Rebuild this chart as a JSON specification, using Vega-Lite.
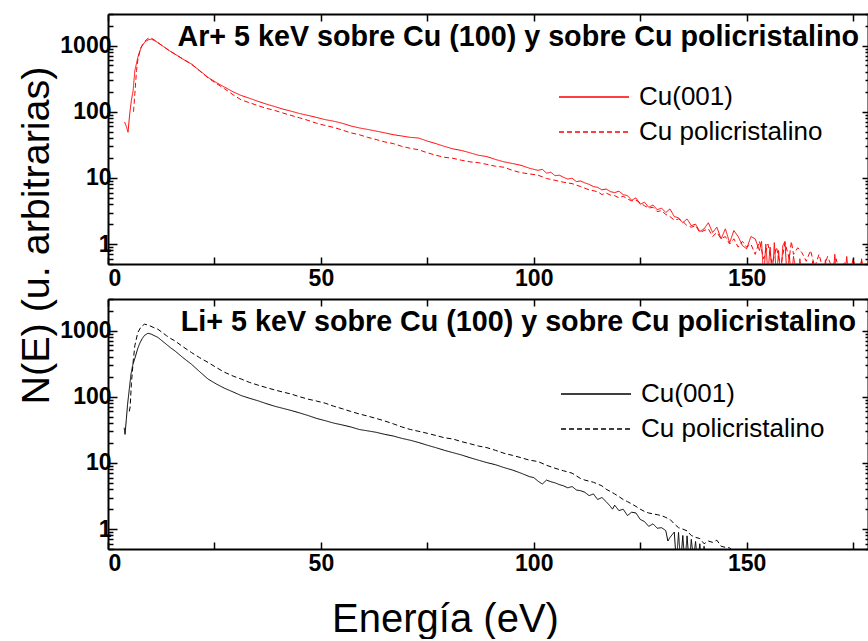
{
  "$schema": "https://vega.github.io/schema/vega-lite/v6.json",
  "background": "white",
  "padding": {"left": 16, "top": 3, "right": 0, "bottom": 0},
  "bounds": "flush",
  "spacing": 35,
  "resolve": {"scale": {"strokeDash": "independent"}, "legend": {"strokeDash": "independent"}},
  "config": {
    "font": "Liberation Sans",
    "view": {"stroke": null},
    "axis": {"grid": false, "domainColor": "black", "domainWidth": 2, "tickColor": "black", "tickWidth": 1.5, "labelColor": "black", "labelFont": "Liberation Sans", "labelFontWeight": "bold", "labelFontSize": 23, "labelOverlap": false, "titleColor": "black", "titleFont": "Liberation Sans", "titleFontWeight": "normal", "titleFontSize": 40},
    "legend": {"orient": "none", "title": null, "symbolType": "M-3.5,0H3.5", "symbolSize": 400, "symbolStrokeWidth": 1.3, "labelFont": "Liberation Sans", "labelFontSize": 26, "labelFontWeight": "normal", "labelColor": "black", "labelOffset": 32, "padding": 0, "rowPadding": 9, "labelLimit": 400}
  },
  "datasets": {
    "ar": [
      {"s":"Cu(001)","E":3.9,"N":70},{"s":"Cu(001)","E":4.3,"N":60},{"s":"Cu(001)","E":4.7,"N":49},{"s":"Cu(001)","E":5.1,"N":93},{"s":"Cu(001)","E":5.5,"N":150},{"s":"Cu(001)","E":5.9,"N":209},{"s":"Cu(001)","E":6.3,"N":417},{"s":"Cu(001)","E":6.7,"N":540},{"s":"Cu(001)","E":7.0,"N":660},{"s":"Cu(001)","E":7.4,"N":800},{"s":"Cu(001)","E":7.8,"N":940},{"s":"Cu(001)","E":8.4,"N":1080},{"s":"Cu(001)","E":9.0,"N":1180},{"s":"Cu(001)","E":9.6,"N":1230},{"s":"Cu(001)","E":10.2,"N":1250},{"s":"Cu(001)","E":11.0,"N":1180},{"s":"Cu(001)","E":11.7,"N":1110},{"s":"Cu(001)","E":12.5,"N":1020},{"s":"Cu(001)","E":13.5,"N":920},{"s":"Cu(001)","E":14.5,"N":830},{"s":"Cu(001)","E":15.7,"N":745},{"s":"Cu(001)","E":17.5,"N":630},{"s":"Cu(001)","E":19.6,"N":525},{"s":"Cu(001)","E":21.5,"N":420},{"s":"Cu(001)","E":23.5,"N":330},{"s":"Cu(001)","E":25.5,"N":275},{"s":"Cu(001)","E":27.4,"N":235},{"s":"Cu(001)","E":29.4,"N":200},{"s":"Cu(001)","E":31.3,"N":176},{"s":"Cu(001)","E":33.2,"N":160},{"s":"Cu(001)","E":35.2,"N":144},{"s":"Cu(001)","E":37.1,"N":131},{"s":"Cu(001)","E":39.1,"N":120},{"s":"Cu(001)","E":41,"N":110},{"s":"Cu(001)","E":43,"N":102},{"s":"Cu(001)","E":45,"N":94},{"s":"Cu(001)","E":47,"N":88},{"s":"Cu(001)","E":49,"N":82},{"s":"Cu(001)","E":51,"N":76},{"s":"Cu(001)","E":53,"N":72},{"s":"Cu(001)","E":55,"N":67},{"s":"Cu(001)","E":57,"N":61},{"s":"Cu(001)","E":59,"N":57},{"s":"Cu(001)","E":61,"N":54},{"s":"Cu(001)","E":63,"N":51},{"s":"Cu(001)","E":65,"N":48},{"s":"Cu(001)","E":67,"N":45},{"s":"Cu(001)","E":69,"N":43},{"s":"Cu(001)","E":71,"N":41},{"s":"Cu(001)","E":73,"N":40},{"s":"Cu(001)","E":75,"N":36},{"s":"Cu(001)","E":77,"N":33},{"s":"Cu(001)","E":79,"N":30},{"s":"Cu(001)","E":81,"N":27.5},{"s":"Cu(001)","E":83,"N":26},{"s":"Cu(001)","E":85,"N":24},{"s":"Cu(001)","E":87,"N":22},{"s":"Cu(001)","E":89,"N":21},{"s":"Cu(001)","E":91,"N":19},{"s":"Cu(001)","E":93,"N":17.5},{"s":"Cu(001)","E":95,"N":16.5},{"s":"Cu(001)","E":97,"N":15.5},{"s":"Cu(001)","E":99,"N":14},{"s":"Cu(001)","E":101,"N":13},{"s":"Cu(001)","E":102,"N":13.5},{"s":"Cu(001)","E":103,"N":11.8},{"s":"Cu(001)","E":104,"N":12.2},{"s":"Cu(001)","E":105,"N":10.8},{"s":"Cu(001)","E":106,"N":11},{"s":"Cu(001)","E":107,"N":10.2},{"s":"Cu(001)","E":108,"N":9.6},{"s":"Cu(001)","E":109,"N":9.9},{"s":"Cu(001)","E":110,"N":8.8},{"s":"Cu(001)","E":111,"N":9.0},{"s":"Cu(001)","E":112,"N":8.4},{"s":"Cu(001)","E":113,"N":8.0},{"s":"Cu(001)","E":114,"N":7.4},{"s":"Cu(001)","E":115,"N":7.2},{"s":"Cu(001)","E":116,"N":6.6},{"s":"Cu(001)","E":117,"N":6.8},{"s":"Cu(001)","E":118,"N":6.2},{"s":"Cu(001)","E":119,"N":6.0},{"s":"Cu(001)","E":120,"N":6.3},{"s":"Cu(001)","E":121,"N":5.6},{"s":"Cu(001)","E":122,"N":5.4},{"s":"Cu(001)","E":123,"N":4.6},{"s":"Cu(001)","E":124,"N":5.0},{"s":"Cu(001)","E":125,"N":4.0},{"s":"Cu(001)","E":126,"N":4.3},{"s":"Cu(001)","E":127,"N":3.6},{"s":"Cu(001)","E":128,"N":3.9},{"s":"Cu(001)","E":129,"N":3.3},{"s":"Cu(001)","E":130,"N":3.5},{"s":"Cu(001)","E":131,"N":3.0},{"s":"Cu(001)","E":132,"N":3.4},{"s":"Cu(001)","E":133,"N":2.6},{"s":"Cu(001)","E":134,"N":2.5},{"s":"Cu(001)","E":135,"N":2.1},{"s":"Cu(001)","E":136,"N":2.4},{"s":"Cu(001)","E":137,"N":1.9},{"s":"Cu(001)","E":138,"N":2.0},{"s":"Cu(001)","E":139,"N":1.55},{"s":"Cu(001)","E":140,"N":1.7},{"s":"Cu(001)","E":141,"N":2.1},{"s":"Cu(001)","E":142,"N":1.5},{"s":"Cu(001)","E":143,"N":1.8},{"s":"Cu(001)","E":144,"N":1.2},{"s":"Cu(001)","E":145,"N":1.7},{"s":"Cu(001)","E":146,"N":1.05},{"s":"Cu(001)","E":147,"N":1.6},{"s":"Cu(001)","E":148,"N":1.3},{"s":"Cu(001)","E":149,"N":0.95},{"s":"Cu(001)","E":150,"N":0.85},{"s":"Cu(001)","E":151,"N":1.3},{"s":"Cu(001)","E":152,"N":1.2},{"s":"Cu(001)","E":153,"N":0.8},{"s":"Cu(001)","E":153.5,"N":1.1},{"s":"Cu(001)","E":154,"N":0.3},{"s":"Cu(001)","E":154.5,"N":1.0},{"s":"Cu(001)","E":155,"N":0.35},{"s":"Cu(001)","E":155.5,"N":0.9},{"s":"Cu(001)","E":156,"N":0.3},{"s":"Cu(001)","E":156.5,"N":1.05},{"s":"Cu(001)","E":157,"N":0.3},{"s":"Cu(001)","E":157.5,"N":0.8},{"s":"Cu(001)","E":158,"N":0.3},{"s":"Cu(001)","E":158.5,"N":0.95},{"s":"Cu(001)","E":159,"N":1.1},{"s":"Cu(001)","E":159.5,"N":0.3},{"s":"Cu(001)","E":160,"N":0.7},{"s":"Cu(001)","E":160.5,"N":0.3},{"s":"Cu(001)","E":161,"N":0.65},{"s":"Cu(001)","E":162,"N":0.3},{"s":"Cu(001)","E":162.5,"N":0.6},{"s":"Cu(001)","E":163,"N":0.3},{"s":"Cu(001)","E":165,"N":0.3},{"s":"Cu(001)","E":165.5,"N":0.55},{"s":"Cu(001)","E":166,"N":0.3},{"s":"Cu(001)","E":168,"N":0.3},{"s":"Cu(001)","E":168.5,"N":0.58},{"s":"Cu(001)","E":169,"N":0.3},{"s":"Cu(001)","E":170.3,"N":0.3},{"s":"Cu(001)","E":170.7,"N":0.7},{"s":"Cu(001)","E":171.2,"N":0.3},{"s":"Cu(001)","E":173,"N":0.3},{"s":"Cu(001)","E":173.5,"N":0.65},{"s":"Cu(001)","E":174,"N":0.3},{"s":"Cu(001)","E":176.5,"N":0.3},{"s":"Cu(001)","E":177,"N":0.6},{"s":"Cu(001)","E":177.5,"N":0.3},{"s":"Cu(001)","E":178.5,"N":0.55},
      {"s":"Cu policristalino","E":6.0,"N":100},{"s":"Cu policristalino","E":6.3,"N":186},{"s":"Cu policristalino","E":6.7,"N":420},{"s":"Cu policristalino","E":7.0,"N":600},{"s":"Cu policristalino","E":7.4,"N":780},{"s":"Cu policristalino","E":7.8,"N":950},{"s":"Cu policristalino","E":8.4,"N":1100},{"s":"Cu policristalino","E":9.0,"N":1230},{"s":"Cu policristalino","E":9.6,"N":1300},{"s":"Cu policristalino","E":10.2,"N":1290},{"s":"Cu policristalino","E":11.0,"N":1200},{"s":"Cu policristalino","E":11.7,"N":1110},{"s":"Cu policristalino","E":12.5,"N":1020},{"s":"Cu policristalino","E":13.5,"N":920},{"s":"Cu policristalino","E":14.5,"N":830},{"s":"Cu policristalino","E":15.7,"N":745},{"s":"Cu policristalino","E":17.5,"N":630},{"s":"Cu policristalino","E":19.6,"N":525},{"s":"Cu policristalino","E":21.5,"N":415},{"s":"Cu policristalino","E":23.5,"N":325},{"s":"Cu policristalino","E":25.5,"N":265},{"s":"Cu policristalino","E":27.4,"N":222},{"s":"Cu policristalino","E":29.4,"N":180},{"s":"Cu policristalino","E":31.3,"N":151},{"s":"Cu policristalino","E":33.2,"N":137},{"s":"Cu policristalino","E":35.2,"N":124},{"s":"Cu policristalino","E":37.1,"N":113},{"s":"Cu policristalino","E":39.1,"N":105},{"s":"Cu policristalino","E":41,"N":96},{"s":"Cu policristalino","E":43,"N":88},{"s":"Cu policristalino","E":45,"N":81},{"s":"Cu policristalino","E":47,"N":74},{"s":"Cu policristalino","E":49,"N":67},{"s":"Cu policristalino","E":51,"N":62},{"s":"Cu policristalino","E":53,"N":58},{"s":"Cu policristalino","E":55,"N":53},{"s":"Cu policristalino","E":57,"N":48},{"s":"Cu policristalino","E":59,"N":45},{"s":"Cu policristalino","E":61,"N":41},{"s":"Cu policristalino","E":63,"N":38},{"s":"Cu policristalino","E":65,"N":35},{"s":"Cu policristalino","E":67,"N":33},{"s":"Cu policristalino","E":69,"N":30},{"s":"Cu policristalino","E":71,"N":28},{"s":"Cu policristalino","E":73,"N":26.6},{"s":"Cu policristalino","E":75,"N":24},{"s":"Cu policristalino","E":77,"N":22},{"s":"Cu policristalino","E":79,"N":20.5},{"s":"Cu policristalino","E":81,"N":19.8},{"s":"Cu policristalino","E":83,"N":18.5},{"s":"Cu policristalino","E":85,"N":17.5},{"s":"Cu policristalino","E":87,"N":17},{"s":"Cu policristalino","E":89,"N":16},{"s":"Cu policristalino","E":91,"N":15},{"s":"Cu policristalino","E":93,"N":14.5},{"s":"Cu policristalino","E":95,"N":13},{"s":"Cu policristalino","E":97,"N":12},{"s":"Cu policristalino","E":99,"N":11.5},{"s":"Cu policristalino","E":101,"N":11},{"s":"Cu policristalino","E":103,"N":9.8},{"s":"Cu policristalino","E":105,"N":9.2},{"s":"Cu policristalino","E":107,"N":8.6},{"s":"Cu policristalino","E":109,"N":8.2},{"s":"Cu policristalino","E":111,"N":7.4},{"s":"Cu policristalino","E":113,"N":6.6},{"s":"Cu policristalino","E":115,"N":6.2},{"s":"Cu policristalino","E":116,"N":5.6},{"s":"Cu policristalino","E":117,"N":5.9},{"s":"Cu policristalino","E":118,"N":5.5},{"s":"Cu policristalino","E":119,"N":5.4},{"s":"Cu policristalino","E":120,"N":5.0},{"s":"Cu policristalino","E":121,"N":5.3},{"s":"Cu policristalino","E":122,"N":4.8},{"s":"Cu policristalino","E":123,"N":4.5},{"s":"Cu policristalino","E":124,"N":4.6},{"s":"Cu policristalino","E":125,"N":4.2},{"s":"Cu policristalino","E":126,"N":3.8},{"s":"Cu policristalino","E":127,"N":3.5},{"s":"Cu policristalino","E":128,"N":3.6},{"s":"Cu policristalino","E":129,"N":3.1},{"s":"Cu policristalino","E":130,"N":3.2},{"s":"Cu policristalino","E":131,"N":2.8},{"s":"Cu policristalino","E":132,"N":2.6},{"s":"Cu policristalino","E":133,"N":2.3},{"s":"Cu policristalino","E":134,"N":2.4},{"s":"Cu policristalino","E":135,"N":2.2},{"s":"Cu policristalino","E":136,"N":1.9},{"s":"Cu policristalino","E":137,"N":1.8},{"s":"Cu policristalino","E":138,"N":1.9},{"s":"Cu policristalino","E":139,"N":1.5},{"s":"Cu policristalino","E":140,"N":1.6},{"s":"Cu policristalino","E":141,"N":1.7},{"s":"Cu policristalino","E":142,"N":1.3},{"s":"Cu policristalino","E":143,"N":1.5},{"s":"Cu policristalino","E":144,"N":1.2},{"s":"Cu policristalino","E":145,"N":1.3},{"s":"Cu policristalino","E":146,"N":1.0},{"s":"Cu policristalino","E":147,"N":1.2},{"s":"Cu policristalino","E":148,"N":0.9},{"s":"Cu policristalino","E":149,"N":1.1},{"s":"Cu policristalino","E":150,"N":0.9},{"s":"Cu policristalino","E":151,"N":1.0},{"s":"Cu policristalino","E":152,"N":0.7},{"s":"Cu policristalino","E":153,"N":1.1},{"s":"Cu policristalino","E":154,"N":0.6},{"s":"Cu policristalino","E":155,"N":1.0},{"s":"Cu policristalino","E":156,"N":0.5},{"s":"Cu policristalino","E":157,"N":0.9},{"s":"Cu policristalino","E":158,"N":0.45},{"s":"Cu policristalino","E":159,"N":1.05},{"s":"Cu policristalino","E":160,"N":0.6},{"s":"Cu policristalino","E":160.5,"N":1.1},{"s":"Cu policristalino","E":161,"N":0.7},{"s":"Cu policristalino","E":162,"N":0.88},{"s":"Cu policristalino","E":163,"N":0.74},{"s":"Cu policristalino","E":164,"N":0.55},{"s":"Cu policristalino","E":165,"N":0.8},{"s":"Cu policristalino","E":166,"N":0.45},{"s":"Cu policristalino","E":167,"N":0.7},{"s":"Cu policristalino","E":168,"N":0.4},{"s":"Cu policristalino","E":169,"N":0.65},{"s":"Cu policristalino","E":170,"N":0.45},{"s":"Cu policristalino","E":171,"N":0.6},{"s":"Cu policristalino","E":172,"N":0.35},{"s":"Cu policristalino","E":173,"N":0.55},{"s":"Cu policristalino","E":174,"N":0.3},{"s":"Cu policristalino","E":175,"N":0.6},{"s":"Cu policristalino","E":176,"N":0.35},{"s":"Cu policristalino","E":177,"N":0.55},{"s":"Cu policristalino","E":178,"N":0.3},{"s":"Cu policristalino","E":178.5,"N":0.5}
    ],
    "li": [
      {"s":"Cu(001)","E":3.8,"N":34},{"s":"Cu(001)","E":4.0,"N":27},{"s":"Cu(001)","E":4.3,"N":45},{"s":"Cu(001)","E":4.6,"N":77},{"s":"Cu(001)","E":5.0,"N":130},{"s":"Cu(001)","E":5.4,"N":220},{"s":"Cu(001)","E":5.8,"N":300},{"s":"Cu(001)","E":6.2,"N":360},{"s":"Cu(001)","E":6.6,"N":440},{"s":"Cu(001)","E":7.0,"N":540},{"s":"Cu(001)","E":7.5,"N":650},{"s":"Cu(001)","E":8.0,"N":750},{"s":"Cu(001)","E":8.6,"N":850},{"s":"Cu(001)","E":9.4,"N":912},{"s":"Cu(001)","E":10.2,"N":880},{"s":"Cu(001)","E":11.0,"N":830},{"s":"Cu(001)","E":11.7,"N":790},{"s":"Cu(001)","E":12.7,"N":700},{"s":"Cu(001)","E":13.7,"N":620},{"s":"Cu(001)","E":14.7,"N":550},{"s":"Cu(001)","E":15.7,"N":494},{"s":"Cu(001)","E":17.6,"N":390},{"s":"Cu(001)","E":19.6,"N":310},{"s":"Cu(001)","E":21.5,"N":240},{"s":"Cu(001)","E":23.5,"N":185},{"s":"Cu(001)","E":25.5,"N":155},{"s":"Cu(001)","E":27.4,"N":134},{"s":"Cu(001)","E":29.4,"N":118},{"s":"Cu(001)","E":31.3,"N":104},{"s":"Cu(001)","E":33.2,"N":95},{"s":"Cu(001)","E":35.2,"N":87},{"s":"Cu(001)","E":37.1,"N":79},{"s":"Cu(001)","E":39.1,"N":72},{"s":"Cu(001)","E":41,"N":67},{"s":"Cu(001)","E":43,"N":62},{"s":"Cu(001)","E":45,"N":57},{"s":"Cu(001)","E":47,"N":52},{"s":"Cu(001)","E":49,"N":47},{"s":"Cu(001)","E":51,"N":43.5},{"s":"Cu(001)","E":53,"N":40},{"s":"Cu(001)","E":55,"N":37.5},{"s":"Cu(001)","E":57,"N":35},{"s":"Cu(001)","E":59,"N":32},{"s":"Cu(001)","E":61,"N":30.5},{"s":"Cu(001)","E":63,"N":29},{"s":"Cu(001)","E":65,"N":27},{"s":"Cu(001)","E":67,"N":25.5},{"s":"Cu(001)","E":69,"N":23.5},{"s":"Cu(001)","E":71,"N":22},{"s":"Cu(001)","E":73,"N":20.3},{"s":"Cu(001)","E":75,"N":18.5},{"s":"Cu(001)","E":77,"N":17},{"s":"Cu(001)","E":79,"N":15.5},{"s":"Cu(001)","E":81,"N":14.3},{"s":"Cu(001)","E":83,"N":13.2},{"s":"Cu(001)","E":85,"N":12},{"s":"Cu(001)","E":87,"N":11},{"s":"Cu(001)","E":89,"N":10.1},{"s":"Cu(001)","E":91,"N":9.4},{"s":"Cu(001)","E":93,"N":8.5},{"s":"Cu(001)","E":95,"N":7.8},{"s":"Cu(001)","E":97,"N":7.0},{"s":"Cu(001)","E":99,"N":6.2},{"s":"Cu(001)","E":100,"N":6.0},{"s":"Cu(001)","E":101,"N":5.3},{"s":"Cu(001)","E":102,"N":4.8},{"s":"Cu(001)","E":103,"N":5.5},{"s":"Cu(001)","E":104,"N":5.2},{"s":"Cu(001)","E":105,"N":5.0},{"s":"Cu(001)","E":106,"N":4.7},{"s":"Cu(001)","E":107,"N":4.5},{"s":"Cu(001)","E":108,"N":4.2},{"s":"Cu(001)","E":109,"N":4.4},{"s":"Cu(001)","E":110,"N":3.9},{"s":"Cu(001)","E":111,"N":3.8},{"s":"Cu(001)","E":112,"N":3.6},{"s":"Cu(001)","E":113,"N":3.2},{"s":"Cu(001)","E":114,"N":3.4},{"s":"Cu(001)","E":115,"N":2.8},{"s":"Cu(001)","E":116,"N":3.0},{"s":"Cu(001)","E":117,"N":2.6},{"s":"Cu(001)","E":118,"N":2.2},{"s":"Cu(001)","E":118.5,"N":2.0},{"s":"Cu(001)","E":119,"N":2.3},{"s":"Cu(001)","E":120,"N":1.9},{"s":"Cu(001)","E":121,"N":2.0},{"s":"Cu(001)","E":122,"N":1.6},{"s":"Cu(001)","E":123,"N":1.8},{"s":"Cu(001)","E":124,"N":1.75},{"s":"Cu(001)","E":125,"N":1.4},{"s":"Cu(001)","E":126,"N":1.3},{"s":"Cu(001)","E":127,"N":1.1},{"s":"Cu(001)","E":128,"N":1.2},{"s":"Cu(001)","E":129,"N":1.03},{"s":"Cu(001)","E":130,"N":1.05},{"s":"Cu(001)","E":131,"N":0.95},{"s":"Cu(001)","E":131.5,"N":0.66},{"s":"Cu(001)","E":132,"N":0.75},{"s":"Cu(001)","E":133,"N":0.9},{"s":"Cu(001)","E":133.5,"N":0.3},{"s":"Cu(001)","E":134,"N":0.89},{"s":"Cu(001)","E":134.5,"N":0.3},{"s":"Cu(001)","E":135,"N":0.8},{"s":"Cu(001)","E":135.5,"N":0.3},{"s":"Cu(001)","E":136,"N":0.79},{"s":"Cu(001)","E":136.5,"N":0.3},{"s":"Cu(001)","E":137,"N":0.7},{"s":"Cu(001)","E":137.5,"N":0.35},{"s":"Cu(001)","E":138,"N":0.65},{"s":"Cu(001)","E":138.5,"N":0.3},{"s":"Cu(001)","E":139,"N":0.6},{"s":"Cu(001)","E":139.5,"N":0.3},{"s":"Cu(001)","E":140,"N":0.55},{"s":"Cu(001)","E":140.5,"N":0.3},
      {"s":"Cu policristalino","E":5.0,"N":60},{"s":"Cu policristalino","E":5.2,"N":70},{"s":"Cu policristalino","E":5.5,"N":160},{"s":"Cu policristalino","E":5.9,"N":333},{"s":"Cu policristalino","E":6.3,"N":590},{"s":"Cu policristalino","E":7.0,"N":935},{"s":"Cu policristalino","E":7.8,"N":1150},{"s":"Cu policristalino","E":8.6,"N":1250},{"s":"Cu policristalino","E":9.6,"N":1200},{"s":"Cu policristalino","E":10.6,"N":1120},{"s":"Cu policristalino","E":11.7,"N":1050},{"s":"Cu policristalino","E":12.7,"N":940},{"s":"Cu policristalino","E":13.7,"N":840},{"s":"Cu policristalino","E":14.7,"N":760},{"s":"Cu policristalino","E":15.7,"N":700},{"s":"Cu policristalino","E":17.6,"N":570},{"s":"Cu policristalino","E":19.6,"N":466},{"s":"Cu policristalino","E":21.5,"N":390},{"s":"Cu policristalino","E":23.5,"N":330},{"s":"Cu policristalino","E":25.5,"N":275},{"s":"Cu policristalino","E":27.4,"N":234},{"s":"Cu policristalino","E":29.4,"N":205},{"s":"Cu policristalino","E":31.3,"N":185},{"s":"Cu policristalino","E":33.2,"N":165},{"s":"Cu policristalino","E":35.2,"N":150},{"s":"Cu policristalino","E":37.1,"N":138},{"s":"Cu policristalino","E":39.1,"N":127},{"s":"Cu policristalino","E":41,"N":118},{"s":"Cu policristalino","E":43,"N":110},{"s":"Cu policristalino","E":45,"N":100},{"s":"Cu policristalino","E":47,"N":92},{"s":"Cu policristalino","E":49,"N":86},{"s":"Cu policristalino","E":51,"N":80},{"s":"Cu policristalino","E":53,"N":72},{"s":"Cu policristalino","E":55,"N":66},{"s":"Cu policristalino","E":57,"N":60},{"s":"Cu policristalino","E":59,"N":55},{"s":"Cu policristalino","E":61,"N":51},{"s":"Cu policristalino","E":63,"N":47},{"s":"Cu policristalino","E":65,"N":43},{"s":"Cu policristalino","E":67,"N":39},{"s":"Cu policristalino","E":69,"N":35},{"s":"Cu policristalino","E":71,"N":32},{"s":"Cu policristalino","E":73,"N":30},{"s":"Cu policristalino","E":75,"N":28},{"s":"Cu policristalino","E":77,"N":26},{"s":"Cu policristalino","E":79,"N":24},{"s":"Cu policristalino","E":81,"N":23},{"s":"Cu policristalino","E":83,"N":21},{"s":"Cu policristalino","E":85,"N":19.5},{"s":"Cu policristalino","E":87,"N":18},{"s":"Cu policristalino","E":89,"N":17},{"s":"Cu policristalino","E":91,"N":15.5},{"s":"Cu policristalino","E":93,"N":14},{"s":"Cu policristalino","E":95,"N":13},{"s":"Cu policristalino","E":97,"N":12},{"s":"Cu policristalino","E":99,"N":11},{"s":"Cu policristalino","E":101,"N":10.5},{"s":"Cu policristalino","E":103,"N":9.2},{"s":"Cu policristalino","E":105,"N":8.3},{"s":"Cu policristalino","E":107,"N":7.6},{"s":"Cu policristalino","E":109,"N":7.0},{"s":"Cu policristalino","E":111,"N":5.8},{"s":"Cu policristalino","E":112,"N":5.5},{"s":"Cu policristalino","E":113,"N":5.3},{"s":"Cu policristalino","E":114,"N":5.1},{"s":"Cu policristalino","E":115,"N":4.8},{"s":"Cu policristalino","E":116,"N":4.5},{"s":"Cu policristalino","E":117,"N":4.0},{"s":"Cu policristalino","E":118,"N":3.7},{"s":"Cu policristalino","E":119,"N":3.4},{"s":"Cu policristalino","E":120,"N":3.1},{"s":"Cu policristalino","E":121,"N":2.8},{"s":"Cu policristalino","E":122,"N":2.6},{"s":"Cu policristalino","E":123,"N":2.4},{"s":"Cu policristalino","E":124,"N":2.2},{"s":"Cu policristalino","E":125,"N":2.0},{"s":"Cu policristalino","E":126,"N":1.85},{"s":"Cu policristalino","E":127,"N":1.75},{"s":"Cu policristalino","E":128,"N":1.7},{"s":"Cu policristalino","E":129,"N":1.65},{"s":"Cu policristalino","E":130,"N":1.6},{"s":"Cu policristalino","E":131,"N":1.5},{"s":"Cu policristalino","E":132,"N":1.4},{"s":"Cu policristalino","E":133,"N":1.2},{"s":"Cu policristalino","E":134,"N":1.05},{"s":"Cu policristalino","E":135,"N":1.0},{"s":"Cu policristalino","E":136,"N":0.94},{"s":"Cu policristalino","E":137,"N":0.8},{"s":"Cu policristalino","E":138,"N":0.75},{"s":"Cu policristalino","E":139,"N":0.72},{"s":"Cu policristalino","E":140,"N":0.6},{"s":"Cu policristalino","E":141,"N":0.66},{"s":"Cu policristalino","E":142,"N":0.63},{"s":"Cu policristalino","E":143,"N":0.68},{"s":"Cu policristalino","E":144,"N":0.55},{"s":"Cu policristalino","E":145,"N":0.53},{"s":"Cu policristalino","E":146,"N":0.52},{"s":"Cu policristalino","E":147,"N":0.45}
    ]
  },
  "vconcat": [
    {
      "width": 760, "height": 250,
      "data": {"name": "ar"},
      "title": {"text": "Ar+ 5 keV sobre Cu (100) y sobre Cu policristalino", "anchor": "end", "frame": "group", "orient": "top", "offset": -32, "baseline": "alphabetic", "dx": -9, "dy": 40, "fontSize": 28.7, "fontWeight": "bold", "font": "Liberation Sans", "color": "black"},
      "resolve": {"axis": {"x": "independent", "y": "independent"}},
      "layer": [
        {
          "transform": [{"filter": "datum.s === 'Cu(001)'"}],
          "mark": {"type": "line", "color": "#ff0000", "strokeWidth": 1, "clip": true},
          "encoding": {
            "x": {"field": "E", "type": "quantitative", "scale": {"domain": [0, 178.5], "nice": false, "zero": false},
                  "axis": {"orient": "bottom", "title": null, "values": [0,25,50,75,100,125,150,175], "labelExpr": "datum.value % 50 === 0 ? datum.label : ''", "tickSize": -7, "labelPadding": 10}},
            "y": {"field": "N", "type": "quantitative", "scale": {"type": "log", "domain": [0.5, 3000], "nice": false},
                  "axis": {"orient": "left", "title": "N(E) (u. arbitrarias)", "titleFontSize": 39.5, "titleX": -60, "titleY": 221, "titleAngle": -90, "titleAlign": "center", "titleBaseline": "alphabetic", "format": "d",
                           "values": [0.5,0.6,0.7,0.8,0.9,1,2,3,4,5,6,7,8,9,10,20,30,40,50,60,70,80,90,100,200,300,400,500,600,700,800,900,1000,2000,3000],
                           "labelExpr": "indexof([1,10,100,1000], datum.value) >= 0 ? datum.label : ''",
                           "tickSize": {"condition": {"test": "indexof([1,10,100,1000], datum.value) >= 0", "value": -9}, "value": -5}, "labelPadding": 6}},
            "strokeDash": {"field": "s", "type": "nominal", "scale": {"domain": ["Cu(001)", "Cu policristalino"], "range": [[1,0],[5,3]]},
                           "legend": {"legendX": 473, "legendY": 70, "symbolStrokeColor": "#ff0000"}}
          }
        },
        {
          "transform": [{"filter": "datum.s === 'Cu policristalino'"}],
          "mark": {"type": "line", "color": "#ff0000", "strokeWidth": 1, "clip": true},
          "encoding": {
            "x": {"field": "E", "type": "quantitative", "scale": {"domain": [0, 178.5], "nice": false, "zero": false},
                  "axis": {"orient": "top", "title": null, "values": [0,25,50,75,100,125,150,175], "labels": false, "tickSize": -7}},
            "y": {"field": "N", "type": "quantitative", "scale": {"type": "log", "domain": [0.5, 3000], "nice": false},
                  "axis": {"orient": "right", "title": null, "labels": false,
                           "values": [0.5,0.6,0.7,0.8,0.9,1,2,3,4,5,6,7,8,9,10,20,30,40,50,60,70,80,90,100,200,300,400,500,600,700,800,900,1000,2000,3000],
                           "tickSize": {"condition": {"test": "indexof([1,10,100,1000], datum.value) >= 0", "value": -6}, "value": -3}}},
            "strokeDash": {"field": "s", "type": "nominal", "scale": {"domain": ["Cu(001)", "Cu policristalino"], "range": [[1,0],[5,3]]}}
          }
        }
      ]
    },
    {
      "width": 760, "height": 250,
      "data": {"name": "li"},
      "title": {"text": "Li+ 5 keV sobre Cu (100) y sobre Cu policristalino", "anchor": "end", "frame": "group", "orient": "top", "offset": -32, "baseline": "alphabetic", "dx": -12, "dy": 40, "fontSize": 28.7, "fontWeight": "bold", "font": "Liberation Sans", "color": "black"},
      "resolve": {"axis": {"x": "independent", "y": "independent"}},
      "layer": [
        {
          "transform": [{"filter": "datum.s === 'Cu(001)'"}],
          "mark": {"type": "line", "color": "black", "strokeWidth": 1, "clip": true},
          "encoding": {
            "x": {"field": "E", "type": "quantitative", "scale": {"domain": [0, 178.5], "nice": false, "zero": false},
                  "axis": {"orient": "bottom", "title": "Energía (eV)", "titleX": 337, "titleY": 82, "titleAlign": "center", "titleBaseline": "alphabetic", "values": [0,25,50,75,100,125,150,175], "labelExpr": "datum.value % 50 === 0 ? datum.label : ''", "tickSize": -7, "labelPadding": 10}},
            "y": {"field": "N", "type": "quantitative", "scale": {"type": "log", "domain": [0.5, 3000], "nice": false},
                  "axis": {"orient": "left", "title": null, "format": "d",
                           "values": [0.5,0.6,0.7,0.8,0.9,1,2,3,4,5,6,7,8,9,10,20,30,40,50,60,70,80,90,100,200,300,400,500,600,700,800,900,1000,2000,3000],
                           "labelExpr": "indexof([1,10,100,1000], datum.value) >= 0 ? datum.label : ''",
                           "tickSize": {"condition": {"test": "indexof([1,10,100,1000], datum.value) >= 0", "value": -9}, "value": -5}, "labelPadding": 6}},
            "strokeDash": {"field": "s", "type": "nominal", "scale": {"domain": ["Cu(001)", "Cu policristalino"], "range": [[1,0],[5,3]]},
                           "legend": {"legendX": 475, "legendY": 82, "symbolStrokeColor": "black"}}
          }
        },
        {
          "transform": [{"filter": "datum.s === 'Cu policristalino'"}],
          "mark": {"type": "line", "color": "black", "strokeWidth": 1, "clip": true},
          "encoding": {
            "x": {"field": "E", "type": "quantitative", "scale": {"domain": [0, 178.5], "nice": false, "zero": false},
                  "axis": {"orient": "top", "title": null, "values": [0,25,50,75,100,125,150,175], "labels": false, "tickSize": -7}},
            "y": {"field": "N", "type": "quantitative", "scale": {"type": "log", "domain": [0.5, 3000], "nice": false},
                  "axis": {"orient": "right", "title": null, "labels": false,
                           "values": [0.5,0.6,0.7,0.8,0.9,1,2,3,4,5,6,7,8,9,10,20,30,40,50,60,70,80,90,100,200,300,400,500,600,700,800,900,1000,2000,3000],
                           "tickSize": {"condition": {"test": "indexof([1,10,100,1000], datum.value) >= 0", "value": -6}, "value": -3}}},
            "strokeDash": {"field": "s", "type": "nominal", "scale": {"domain": ["Cu(001)", "Cu policristalino"], "range": [[1,0],[5,3]]}}
          }
        }
      ]
    }
  ]
}
